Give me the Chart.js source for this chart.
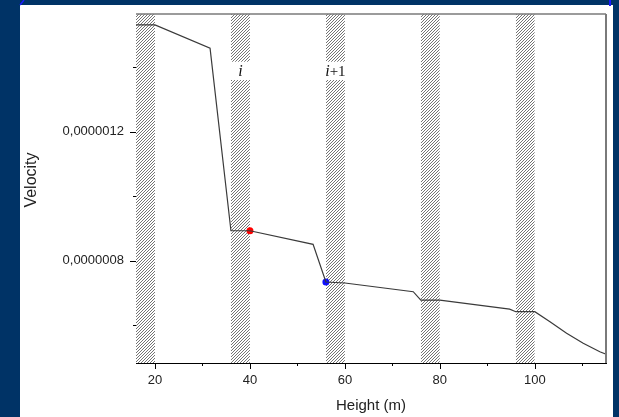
<!DOCTYPE html>
<html>
<head>
<meta charset="utf-8">
<script src="https://cdn.jsdelivr.net/npm/chart.js@4.4.0/dist/chart.umd.min.js"></script>
<style>
  html, body { margin: 0; padding: 0; background: #003366; }
  canvas { display: block; }
</style>
</head>
<body>
<canvas id="velChart" width="619" height="417"></canvas>
<script>
// profile
const heights = [16, 20, 31.6, 36, 40, 53.3, 56, 60, 74.4, 76, 80, 94.7, 96, 100, 103.2, 106.7, 110.2, 113.7, 114.9];
const velocities = [1.531e-6, 1.531e-6, 1.459e-6, 0.893e-6, 0.893e-6, 0.851e-6, 0.734e-6, 0.731e-6, 0.704e-6,
                    0.678e-6, 0.678e-6, 0.650e-6, 0.642e-6, 0.642e-6, 0.611e-6, 0.575e-6, 0.544e-6, 0.518e-6, 0.511e-6];

// the two highlighted points
const markHeights = [40, 56];
const markVelocities = [0.893e-6, 0.734e-6];

// hatched layers
const bandStart = [16, 36, 56, 76, 96];
const bandEnd = [20, 40, 60, 80, 100];
const bandLabels = ['', 'i', 'i+1', '', ''];
const labelGap = [1.36e-6, 1.417e-6];

const xMin = 16, xMax = 115;
const yMin = 0.483e-6, yMax = 1.565e-6;

const canvas = document.getElementById('velChart');
const ctx = canvas.getContext('2d');

function makeHatch() {
    const tile = document.createElement('canvas');
    tile.width = 3;
    tile.height = 3;
    const t = tile.getContext('2d');
    t.fillStyle = '#ffffff';
    t.fillRect(0, 0, 3, 3);
    t.fillStyle = '#747474';
    for (let x = 0; x < 3; x++) t.fillRect(x, 2 - x, 1, 1);
    return ctx.createPattern(tile, 'repeat');
}
const hatch = makeHatch();

const bandSets = [];
bandStart.forEach((s, i) => {
    const pieces = bandLabels[i] ? [[yMin, labelGap[0]], [labelGap[1], yMax]] : [[yMin, yMax]];
    pieces.forEach(p => {
        bandSets.push({
            data: [{ x: s, y: p[1] }, { x: bandEnd[i], y: p[1] }],
            fill: { value: p[0] },
            backgroundColor: hatch,
            borderWidth: 0,
            pointRadius: 0
        });
    });
});

const backdrop = {
    id: 'backdrop',
    beforeDraw(chart) {
        const c = chart.ctx;
        c.save();
        c.fillStyle = '#003366';
        c.fillRect(0, 0, chart.width, chart.height);
        c.fillStyle = '#ffffff';
        c.fillRect(20, 5, 593, 412);
        c.strokeStyle = '#1a1aff';
        c.lineWidth = 1.5;
        c.beginPath();
        c.moveTo(20, 5);
        c.lineTo(24, 0);
        c.stroke();
        c.fillStyle = '#1a1aff';
        c.fillRect(609, 0, 2, 6);
        c.restore();
    }
};

const frame = {
    id: 'frame',
    afterDraw(chart) {
        const c = chart.ctx;
        const a = chart.chartArea;
        const xs = chart.scales.x, ys = chart.scales.y;
        c.save();
        // top and right edges
        c.strokeStyle = '#7a7a7a';
        c.lineWidth = 1.5;
        c.beginPath();
        c.moveTo(a.left, a.top);
        c.lineTo(a.right, a.top);
        c.stroke();
        c.lineWidth = 2;
        c.beginPath();
        c.moveTo(a.right, a.top);
        c.lineTo(a.right, a.bottom);
        c.stroke();
        // major / minor tick marks
        c.strokeStyle = '#000';
        c.lineWidth = 1;
        xs.ticks.forEach(t => {
            const px = Math.round(xs.getPixelForValue(t.value)) + 0.5;
            const len = Math.round(t.value) % 20 === 0 ? 6 : 3;
            c.beginPath();
            c.moveTo(px, a.bottom);
            c.lineTo(px, a.bottom + len);
            c.stroke();
        });
        ys.ticks.forEach(t => {
            const py = Math.round(ys.getPixelForValue(t.value)) + 0.5;
            const len = Math.round(t.value * 1e7) % 4 === 0 ? 6 : 3;
            c.beginPath();
            c.moveTo(a.left - len, py);
            c.lineTo(a.left, py);
            c.stroke();
        });
        // layer labels
        c.fillStyle = '#111';
        c.textBaseline = 'middle';
        c.textAlign = 'left';
        bandLabels.forEach((lab, i) => {
            if (!lab) return;
            const cx = xs.getPixelForValue((bandStart[i] + bandEnd[i]) / 2);
            const cy = ys.getPixelForValue((labelGap[0] + labelGap[1]) / 2) + 1;
            const head = lab[0], rest = lab.slice(1);
            c.font = 'italic 16px "Liberation Serif"';
            const w1 = c.measureText(head).width;
            c.font = '15px "Liberation Serif"';
            const w2 = c.measureText(rest).width;
            let x0 = cx - (w1 + w2) / 2;
            c.font = 'italic 16px "Liberation Serif"';
            c.fillText(head, x0, cy);
            c.font = '15px "Liberation Serif"';
            c.fillText(rest, x0 + w1, cy);
        });
        // y axis title
        c.translate(32, 180);
        c.rotate(-Math.PI / 2);
        c.textAlign = 'center';
        c.font = '16px "Liberation Sans"';
        c.fillStyle = '#222';
        c.fillText('Velocity', 0, 0);
        c.restore();
    }
};

new Chart(ctx, {
    type: 'line',
    data: {
        datasets: [
            {
                data: heights.map((h, i) => ({ x: h, y: velocities[i] })),
                borderColor: '#3a3a3a',
                borderWidth: 1.2,
                pointRadius: 0,
                tension: 0,
                fill: false
            },
            {
                data: [{ x: markHeights[0], y: markVelocities[0] }],
                showLine: false,
                pointRadius: 3.5,
                pointBorderWidth: 0,
                pointBackgroundColor: '#ff0000'
            },
            {
                data: [{ x: markHeights[1], y: markVelocities[1] }],
                showLine: false,
                pointRadius: 3.5,
                pointBorderWidth: 0,
                pointBackgroundColor: '#1010ff'
            },
            ...bandSets
        ]
    },
    options: {
        responsive: false,
        animation: false,
        devicePixelRatio: 1,
        layout: { padding: { left: 20, top: 14, right: 13, bottom: 0 } },
        plugins: { legend: { display: false }, tooltip: { enabled: false } },
        scales: {
            x: {
                type: 'linear',
                min: xMin,
                max: xMax,
                border: { color: '#000', width: 1 },
                grid: { display: false, drawTicks: false },
                ticks: {
                    stepSize: 10,
                    includeBounds: false,
                    autoSkip: false,
                    maxRotation: 0,
                    padding: 10,
                    color: '#222',
                    font: { family: 'Liberation Sans', size: 13 },
                    callback: v => Math.round(v) % 20 === 0 ? String(Math.round(v)) : ''
                },
                title: {
                    display: true,
                    text: 'Height (m)',
                    color: '#222',
                    font: { family: 'Liberation Sans', size: 15 },
                    padding: { top: 0, bottom: 2 }
                },
                afterFit: s => { s.height = 54; s.paddingLeft = 0; s.paddingRight = 0; }
            },
            y: {
                min: yMin,
                max: yMax,
                border: { color: '#000', width: 1 },
                grid: { display: false, drawTicks: false },
                ticks: {
                    stepSize: 0.2e-6,
                    includeBounds: false,
                    autoSkip: false,
                    padding: 12,
                    color: '#222',
                    font: { family: 'Liberation Sans', size: 13 },
                    callback: v => Math.round(v * 1e7) % 4 === 0 ? v.toFixed(7).replace('.', ',') : ''
                },
                afterFit: s => { s.width = 116; s.paddingTop = 0; s.paddingBottom = 0; }
            }
        }
    },
    plugins: [backdrop, frame]
});
</script>
</body>
</html>
